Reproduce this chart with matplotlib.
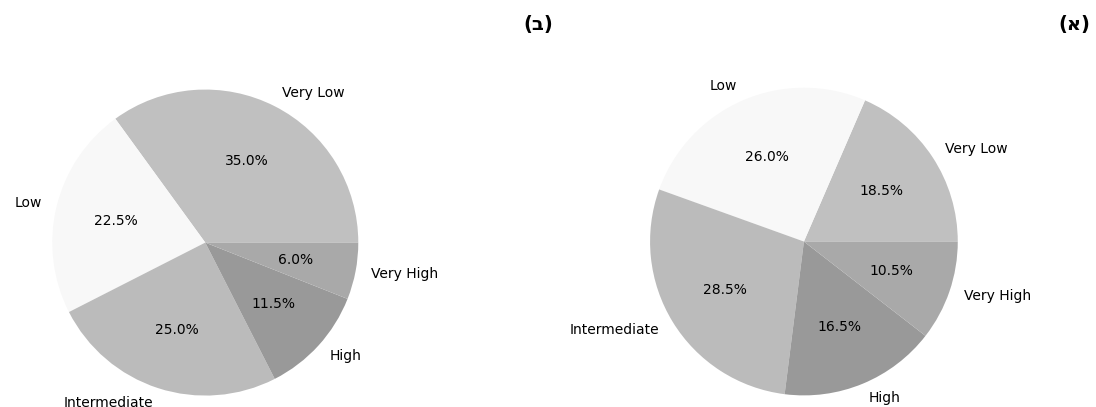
import matplotlib.pyplot as plt

# categories and values
categories = ['Very Low', 'Low', 'Intermediate', 'High', 'Very High']
values_b = [35.0, 22.5, 25.0, 11.5, 6.0]
values_a = [18.5, 26.0, 28.5, 16.5, 10.5]
gray_colors = ['#c0c0c0', '#f8f8f8', '#bbbbbb', '#999999', '#a9a9a9']

fig = plt.figure(figsize=(10.96, 4.07), dpi=100)

# left pie (b)
ax_b = fig.add_axes([0.0128, -0.066, 0.349, 0.94])
ax_b.pie(values_b, labels=categories, colors=gray_colors, autopct='%1.1f%%')
ax_b.set_aspect('equal')

# right pie (a)
ax_a = fig.add_axes([0.558, -0.066, 0.351, 0.945])
ax_a.pie(values_a, labels=categories, colors=gray_colors, autopct='%1.1f%%')
ax_a.set_aspect('equal')

fig.text(0.5046, 0.94, '(ב)', ha='right', va='center', fontsize=14, fontweight='bold')
fig.text(0.995, 0.94, '(א)', ha='right', va='center', fontsize=14, fontweight='bold')

fig.savefig('out.png', dpi=100)
